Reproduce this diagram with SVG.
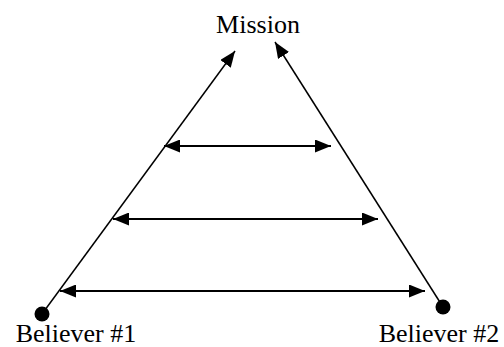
<svg xmlns="http://www.w3.org/2000/svg" width="504" height="347" viewBox="0 0 504 347">
<defs>
<style>
.lbl{font-family:"Liberation Serif","Times New Roman",serif;font-size:26px;fill:#000;text-anchor:middle}
.edge{stroke:#000;fill:none}
.diag{stroke-width:1.5}
.hz{stroke-width:2}
</style>
<marker id="ah" markerUnits="userSpaceOnUse" markerWidth="16" markerHeight="13" refX="16" refY="6.5" orient="auto-start-reverse" viewBox="0 0 16 13">
<path d="M0,0 L16,6.5 L0,13 z" fill="#000"/>
</marker>
</defs>
<rect width="504" height="347" fill="#fff"/>
<g id="mission"><text class="lbl" x="258" y="33">Mission</text></g>
<g id="believer1"><circle cx="42" cy="314" r="7.5" fill="#000"/><text class="lbl" x="76" y="342">Believer #1</text></g>
<g id="believer2"><circle cx="443" cy="307" r="7.5" fill="#000"/><text class="lbl" x="439" y="342">Believer #2</text></g>
<g id="connectors">
<line class="edge diag" x1="42" y1="314" x2="235" y2="51" marker-end="url(#ah)"/>
<line class="edge diag" x1="443" y1="307" x2="275" y2="42" marker-end="url(#ah)"/>
<line class="edge hz" x1="164" y1="146" x2="331" y2="146" marker-start="url(#ah)" marker-end="url(#ah)"/>
<line class="edge hz" x1="113" y1="219" x2="378" y2="219" marker-start="url(#ah)" marker-end="url(#ah)"/>
<line class="edge hz" x1="60" y1="291" x2="425" y2="291" marker-start="url(#ah)" marker-end="url(#ah)"/>
</g>
</svg>
